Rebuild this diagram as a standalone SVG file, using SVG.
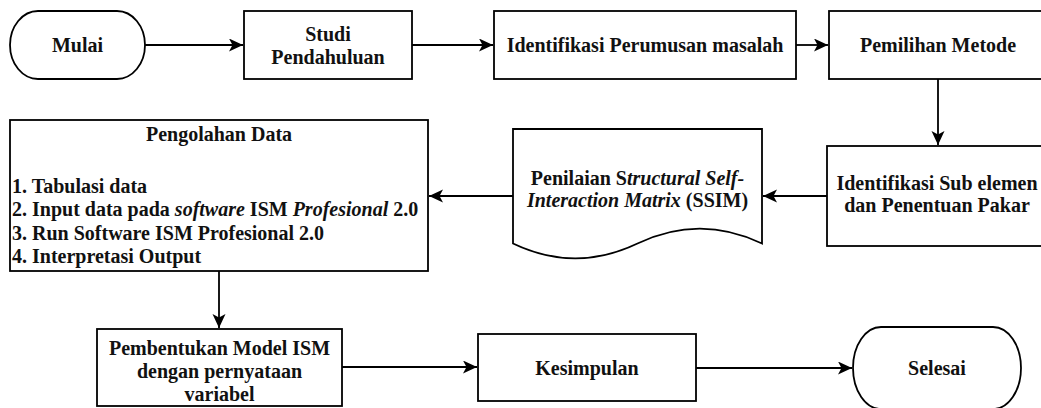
<svg xmlns="http://www.w3.org/2000/svg" width="1041" height="408" viewBox="0 0 1041 408">
<defs>
<style>
.shape{fill:#fff;stroke:#000;stroke-width:1.8}
.conn{fill:none;stroke:#000;stroke-width:1.8}
text{font-family:"Liberation Serif","Times New Roman",serif;font-size:20px;font-weight:bold;fill:#111}
.c{text-anchor:middle}
.i{font-style:italic}
</style>
<marker id="arr" markerUnits="userSpaceOnUse" markerWidth="16" markerHeight="14" refX="14" refY="6.5" orient="auto">
<path d="M0,0 L14,6.5 L0,13 L3.5,6.5 Z" fill="#000"/>
</marker>
</defs>
<rect width="1041" height="408" fill="#fff"/>
<g id="connectors">
<path class="conn" d="M145,45 H243" marker-end="url(#arr)"/>
<path class="conn" d="M412,45 H493" marker-end="url(#arr)"/>
<path class="conn" d="M796,45 H828" marker-end="url(#arr)"/>
<path class="conn" d="M938,79 V145" marker-end="url(#arr)"/>
<path class="conn" d="M827,196 H763" marker-end="url(#arr)"/>
<path class="conn" d="M513,196 H429" marker-end="url(#arr)"/>
<path class="conn" d="M219,271 V328" marker-end="url(#arr)"/>
<path class="conn" d="M342,367 H477" marker-end="url(#arr)"/>
<path class="conn" d="M696,368 H852" marker-end="url(#arr)"/>
</g>
<g id="mulai">
<rect class="shape" x="10" y="11" width="135" height="68" rx="28" ry="34"/>
<text class="c" x="77.5" y="52">Mulai</text>
</g>
<g id="studi">
<rect class="shape" x="244" y="11" width="168" height="68"/>
<text class="c" x="328" y="41">Studi</text>
<text class="c" x="328" y="64">Pendahuluan</text>
</g>
<g id="identifikasi-perumusan">
<rect class="shape" x="494" y="11" width="302" height="68"/>
<text class="c" x="645" y="52">Identifikasi Perumusan masalah</text>
</g>
<g id="pemilihan">
<rect class="shape" x="829" y="11" width="218" height="68"/>
<text class="c" x="938" y="52">Pemilihan Metode</text>
</g>
<g id="identifikasi-sub">
<rect class="shape" x="827" y="146" width="220" height="100"/>
<text class="c" x="937" y="190">Identifikasi Sub elemen</text>
<text class="c" x="937" y="212">dan Penentuan Pakar</text>
</g>
<g id="penilaian">
<path class="shape" d="M513,129 H762 V243.5 Q699.75,213.8 637.5,243.5 Q575.25,273.2 513,243.5 Z"/>
<text class="c" x="637.5" y="185">Penilaian S<tspan class="i">tructural Self-</tspan></text>
<text class="c" x="637.5" y="207"><tspan class="i">Interaction Matrix</tspan> (SSIM)</text>
</g>
<g id="pengolahan">
<rect class="shape" x="10" y="120" width="418" height="151"/>
<text class="c" x="219" y="141">Pengolahan Data</text>
<text x="12" y="193">1. Tabulasi data</text>
<text x="12" y="216">2. Input data pada <tspan class="i">software</tspan> ISM <tspan class="i">Profesional</tspan> 2.0</text>
<text x="12" y="240">3. Run Software ISM Profesional 2.0</text>
<text x="12" y="263">4. Interpretasi Output</text>
</g>
<g id="pembentukan">
<rect class="shape" x="97" y="329" width="245" height="77"/>
<text class="c" x="219.5" y="355">Pembentukan Model ISM</text>
<text class="c" x="219.5" y="378">dengan pernyataan</text>
<text class="c" x="219.5" y="401">variabel</text>
</g>
<g id="kesimpulan">
<rect class="shape" x="478" y="334" width="218" height="67"/>
<text class="c" x="587" y="375">Kesimpulan</text>
</g>
<g id="selesai">
<rect class="shape" x="853" y="327" width="168" height="82" rx="28" ry="41"/>
<text class="c" x="937" y="375">Selesai</text>
</g>
</svg>
